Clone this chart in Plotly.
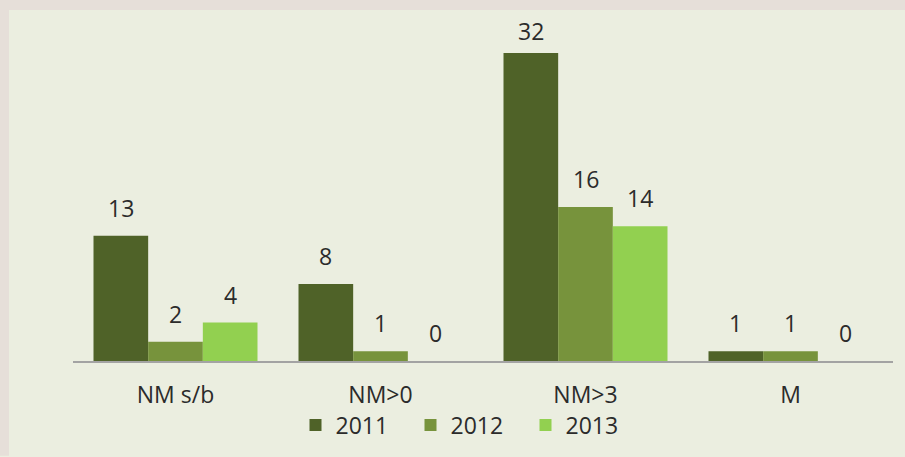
import plotly.graph_objects as go

categories = ["NM s/b", "NM>0", "NM>3", "M"]
years = ["2011", "2012", "2013"]
values_2011 = [13, 8, 32, 1]
values_2012 = [2, 1, 16, 1]
values_2013 = [4, 0, 14, 0]
series_values = [values_2011, values_2012, values_2013]
colors = ["#4f6228", "#77933c", "#92d050"]

W, H = 905, 457
ML, MR, MT, MB = 73, 12, 40, 95
plot_w = W - ML - MR
plot_h = H - MT - MB
ymax = 33.35
px_per_unit = plot_h / ymax

FONT = "Open Sans"
TEXT_COLOR = "#2b2b2b"
BG = "#ebeee0"
FRAME = "#e6dfd9"

fig = go.Figure()
for name, vals, col in zip(years, series_values, colors):
    fig.add_trace(go.Bar(
        name=name, x=categories, y=vals,
        marker=dict(color=col, line=dict(width=0)),
    ))

# value labels above each bar, kept clear of the top frame
n = len(years)
group_w = 0.8
bar_w = group_w / n
label_top_px = 31
for i, vals in enumerate(series_values):
    off = -group_w / 2 + bar_w * (i + 0.5)
    for j, v in enumerate(vals):
        bar_top_px = MT + (ymax - v) * px_per_unit
        shift = min(28, bar_top_px - label_top_px)
        fig.add_annotation(
            x=j + off, y=v, xref="x", yref="y", text=str(v),
            showarrow=False, yanchor="middle", yshift=shift,
            font=dict(family=FONT, size=23, color=TEXT_COLOR),
        )

# outer frame strips (left and top)
def px_x(p):
    return (p - ML) / plot_w

def px_y(p):
    return (H - MB - p) / plot_h

fig.add_shape(type="rect", xref="paper", yref="paper",
              x0=px_x(0), x1=px_x(9), y0=px_y(H), y1=px_y(0),
              fillcolor=FRAME, line=dict(width=0), layer="below")
fig.add_shape(type="rect", xref="paper", yref="paper",
              x0=px_x(0), x1=px_x(W), y0=px_y(10), y1=px_y(0),
              fillcolor=FRAME, line=dict(width=0), layer="below")

fig.update_layout(
    width=W, height=H,
    margin=dict(l=ML, r=MR, t=MT, b=MB),
    paper_bgcolor=BG, plot_bgcolor=BG,
    barmode="group", bargap=0.2, bargroupgap=0,
    showlegend=True,
    legend=dict(orientation="h", x=px_x(468), xanchor="center",
                y=px_y(425), yanchor="middle",
                entrywidth=70, entrywidthmode="pixels",
                font=dict(family=FONT, size=23, color=TEXT_COLOR),
                bgcolor="rgba(0,0,0,0)", itemclick=False),
    font=dict(family=FONT, color=TEXT_COLOR),
    xaxis=dict(showline=True, linecolor="#a3a3a3", linewidth=2,
               ticks="", showgrid=False, ticklabelstandoff=12,
               tickfont=dict(family=FONT, size=23, color=TEXT_COLOR)),
    yaxis=dict(range=[0, ymax], visible=False, showgrid=False),
)

fig.write_html("out.html")
